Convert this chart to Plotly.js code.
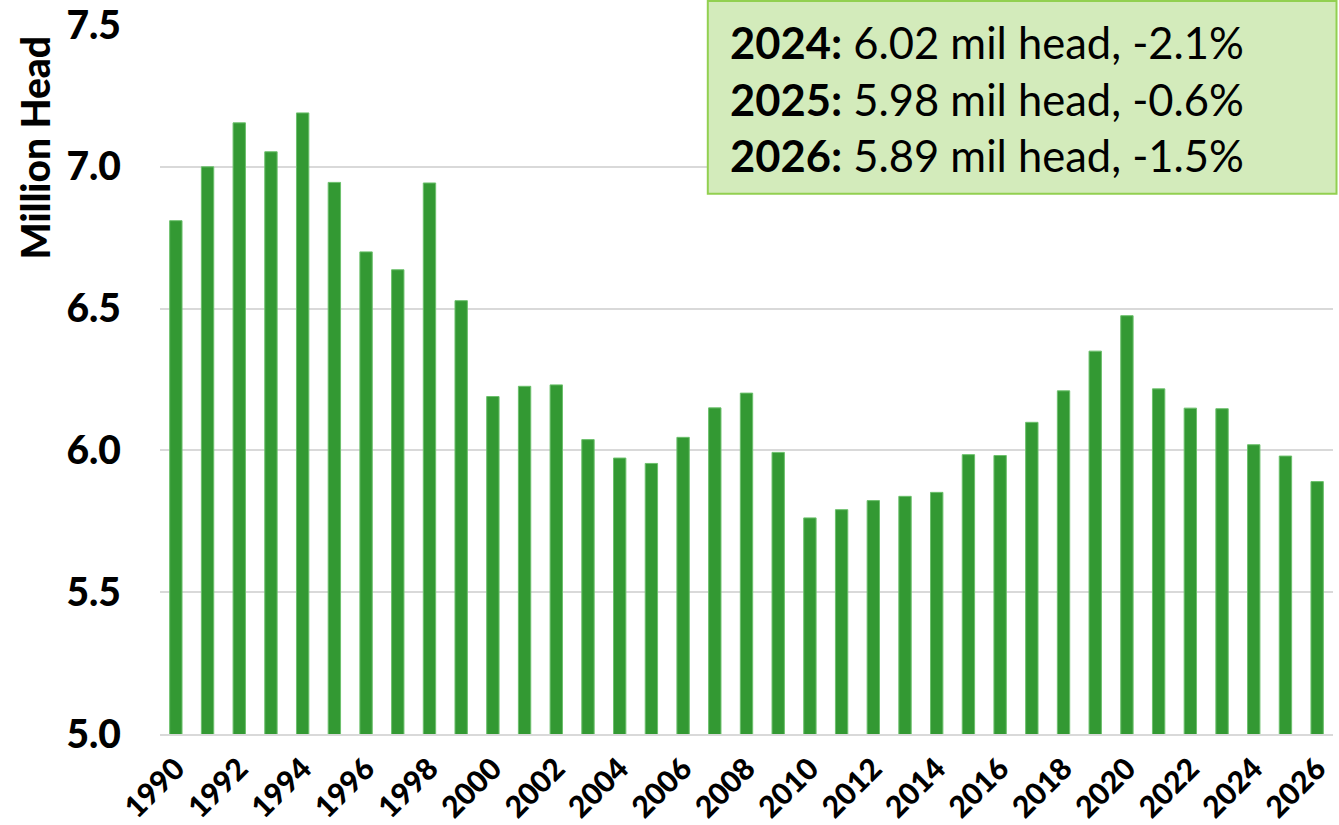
<!DOCTYPE html>
<html>
<head>
<meta charset="utf-8">
<script src="https://cdn.plot.ly/plotly-3.0.1.min.js"></script>
<style>
    html, body { margin: 0; padding: 0; background: #fff; }
    #chart { width: 1339px; height: 825px; }
</style>
</head>
<body>
<div id="chart"></div>
<script>
const YEARS = [
    1990, 1991, 1992, 1993, 1994, 1995, 1996, 1997, 1998, 1999,
    2000, 2001, 2002, 2003, 2004, 2005, 2006, 2007, 2008, 2009,
    2010, 2011, 2012, 2013, 2014, 2015, 2016, 2017, 2018, 2019,
    2020, 2021, 2022, 2023, 2024, 2025, 2026
];
const MILLION_HEAD = [
    6.81, 7.00, 7.155, 7.053, 7.19, 6.945, 6.70, 6.637, 6.943, 6.528,
    6.19, 6.226, 6.231, 6.038, 5.973, 5.954, 6.046, 6.15, 6.202, 5.993,
    5.762, 5.791, 5.823, 5.838, 5.852, 5.985, 5.982, 6.099, 6.21, 6.35,
    6.475, 6.217, 6.149, 6.147, 6.02, 5.98, 5.89
];
const NOTE_LINES = [
    { year: "2024", text: "6.02 mil head, -2.1%" },
    { year: "2025", text: "5.98 mil head, -0.6%" },
    { year: "2026", text: "5.89 mil head, -1.5%" }
];

const FONT = "Lato, 'Open Sans', sans-serif";
const DIV = document.querySelector("#chart");

let bars = {
    type: "bar",
    x: YEARS,
    y: MILLION_HEAD,
    width: 0.39,
    marker: { color: "#339933", line: { color: "#6cc06c", width: 1 } },
    hoverinfo: "skip"
};

let noteText = NOTE_LINES.map(l => `<b>${l.year}:</b> ${l.text}`).join("<br>");

let layout = {
    width: 1339,
    height: 825,
    margin: { l: 160, r: 6, t: 25, b: 91 },
    paper_bgcolor: "#fff",
    plot_bgcolor: "#fff",
    showlegend: false,
    font: { family: FONT, color: "#000" },
    xaxis: {
        range: [1989.5, 2026.5],
        tick0: 1990,
        dtick: 2,
        tickangle: -45,
        ticks: "",
        ticklabelstandoff: 3,
        tickfont: { family: FONT, size: 30, weight: 900 },
        showgrid: false,
        zeroline: false,
        showline: true,
        linecolor: "#d9d9d9",
        linewidth: 2
    },
    yaxis: {
        range: [5.0, 7.5],
        dtick: 0.5,
        tickformat: ".1f",
        ticks: "",
        ticklabelstandoff: 38,
        tickfont: { family: FONT, size: 39, weight: 900 },
        gridcolor: "#d9d9d9",
        gridwidth: 2,
        zeroline: false,
        showline: false
    },
    shapes: [{
        type: "rect",
        xref: "paper", yref: "paper",
        x0: 0.467, x1: 1.003, y0: 0.762, y1: 1.034,
        fillcolor: "#d3ebbb",
        line: { color: "#92d050", width: 2 },
        layer: "above"
    }],
    annotations: [
        {
            xref: "paper", yref: "paper",
            x: 0.484, y: 0.897,
            xanchor: "left", yanchor: "middle",
            align: "left",
            showarrow: false,
            text: noteText,
            font: { family: FONT, size: 43.5, color: "#000" }
        },
        {
            xref: "paper", yref: "paper",
            x: -0.107, y: 0.828,
            xanchor: "center", yanchor: "middle",
            textangle: -90,
            showarrow: false,
            text: "Million Head",
            font: { family: FONT, size: 39, weight: 900, color: "#000" }
        }
    ]
};

Plotly.newPlot(DIV, [bars], layout, { staticPlot: true, displayModeBar: false });
</script>
</body>
</html>
